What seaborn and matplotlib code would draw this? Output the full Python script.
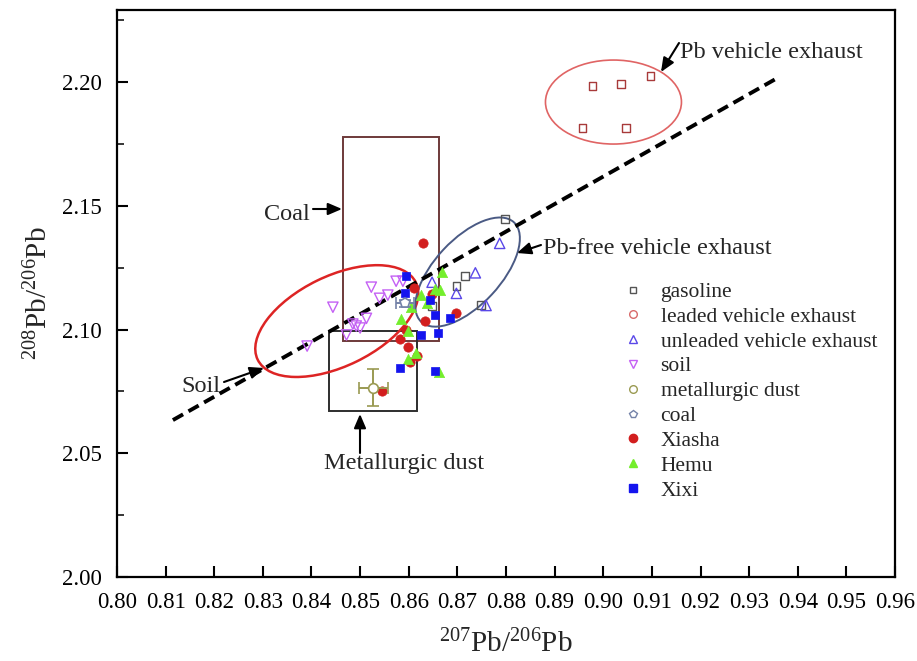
import numpy as np
import pandas as pd
import matplotlib
matplotlib.use("Agg")
import matplotlib.pyplot as plt
import seaborn as sns
from matplotlib.lines import Line2D
from matplotlib.patches import Ellipse, Rectangle
from matplotlib.transforms import Affine2D

# ---------------- data ----------------
gasoline_x = [0.8798, 0.8716, 0.8698, 0.8648, 0.8748]
gasoline_y = [2.1446, 2.1215, 2.1176, 2.1095, 2.1098]

leaded_x = [0.8978, 0.9037, 0.9097, 0.8957, 0.9047]
leaded_y = [2.1984, 2.1992, 2.2024, 2.1814, 2.1814]

unleaded_x = [0.8787, 0.8737, 0.8698, 0.8648, 0.8759]
unleaded_y = [2.1348, 2.1229, 2.1146, 2.1191, 2.1097]

soil_x = [0.8391, 0.8444, 0.8472, 0.8485, 0.8492, 0.8500, 0.8513, 0.8523, 0.8540, 0.8557, 0.8574, 0.8588]
soil_y = [2.0933, 2.1090, 2.0978, 2.1022, 2.1014, 2.1006, 2.1045, 2.1171, 2.1126, 2.1139, 2.1195, 2.1195]

metal_x, metal_y, metal_xerr, metal_yerr = [0.8527], [2.0765], [0.0030], [0.0074]
coal_x, coal_y, coal_xerr, coal_yerr = [0.8592], [2.1106], [0.0019], [0.0015]

xiasha_x = [0.8629, 0.8610, 0.8648, 0.8698, 0.8633, 0.8594, 0.8583, 0.8599, 0.8617, 0.8602, 0.8544]
xiasha_y = [2.1349, 2.1166, 2.1145, 2.1067, 2.1036, 2.0998, 2.0961, 2.0931, 2.0894, 2.0868, 2.0753]

hemu_x = [0.8668, 0.8664, 0.8654, 0.8626, 0.8637, 0.8605, 0.8585, 0.8598, 0.8615, 0.8598, 0.8663]
hemu_y = [2.1232, 2.1158, 2.1164, 2.1139, 2.1107, 2.1091, 2.1042, 2.0994, 2.0905, 2.0881, 2.0828]

xixi_x = [0.8594, 0.8593, 0.8643, 0.8655, 0.8684, 0.8626, 0.8660, 0.8581, 0.8653]
xixi_y = [2.1216, 2.1149, 2.1121, 2.1059, 2.1046, 2.0978, 2.0985, 2.0843, 2.0834]

trend_x = [0.8115, 0.9358]
trend_y = [2.0634, 2.2016]

x_ticks = [0.80, 0.81, 0.82, 0.83, 0.84, 0.85, 0.86, 0.87, 0.88, 0.89,
           0.90, 0.91, 0.92, 0.93, 0.94, 0.95, 0.96]
y_ticks = [2.00, 2.05, 2.10, 2.15, 2.20]

legend_labels = ["gasoline", "leaded vehicle exhaust", "unleaded vehicle exhaust",
                 "soil", "metallurgic dust", "coal", "Xiasha", "Hemu", "Xixi"]

# ---------------- style ----------------
sns.set_theme(style="ticks")
plt.rcParams["font.family"] = ["Liberation Serif", "DejaVu Serif"]
plt.rcParams["mathtext.fontset"] = "custom"
plt.rcParams["mathtext.rm"] = "Liberation Serif"
plt.rcParams["mathtext.it"] = "Liberation Serif:italic"
plt.rcParams["mathtext.bf"] = "Liberation Serif:bold"

C_GAS = "#555555"
C_LEAD = "#a83a3a"
C_LEAD_LEG = "#d86a6a"
C_UNL = "#5a48e8"
C_SOIL = "#c460f4"
C_METAL = "#9a9a52"
C_COAL = "#7482a8"
C_XIA = "#d21e1e"
C_HEMU = "#74ee2c"
C_XIXI = "#1414ee"

W, H = 917, 661
fig = plt.figure(figsize=(W / 100, H / 100), dpi=100)
ax_l, ax_r, ax_b, ax_t = 117, 895, 577, 10
ax = fig.add_axes([ax_l / W, 1 - ax_b / H, (ax_r - ax_l) / W, (ax_b - ax_t) / H])

XMIN, XMAX = 0.80, 0.96
YMIN = 2.00
YMAX = YMIN + (ax_b - ax_t) / 2475.0
ax.set_xlim(XMIN, XMAX)
ax.set_ylim(YMIN, YMAX)

# pixel -> data scale (for shapes defined in screen-like units)
sx = (XMAX - XMIN) / (ax_r - ax_l)
sy = (YMAX - YMIN) / (ax_b - ax_t)

# ---------------- regions ----------------
ax.add_patch(Rectangle((0.8465, 2.0954), 0.8663 - 0.8465, 2.1778 - 2.0954,
                       fill=False, edgecolor="#6e3a3a", lw=1.4, zorder=2))
ax.add_patch(Rectangle((0.8436, 2.0671), 0.8616 - 0.8436, 2.0995 - 2.0671,
                       fill=False, edgecolor="#2e2e2e", lw=1.4, zorder=2))

def add_ellipse(cx, cy, a_px, b_px, ang, color, lw):
    tr = Affine2D().scale(sx, sy).translate(cx, cy) + ax.transData
    e = Ellipse((0, 0), 2 * a_px, 2 * b_px, angle=ang, fill=False,
                edgecolor=color, lw=lw, transform=tr, zorder=2)
    ax.add_patch(e)

add_ellipse(0.8452, 2.1034, 88, 45, 26, "#dd2424", 1.8)
add_ellipse(0.8721, 2.1232, 68, 33, 47, "#4a5a84", 1.4)
add_ellipse(0.9021, 2.1919, 68, 42, 0, "#e06464", 1.2)

# ---------------- trend line ----------------
ax.plot(trend_x, trend_y, color="black", lw=2.8, dashes=(3.0, 1.6), zorder=3)

# ---------------- scatter ----------------
def open_pts(x, y, marker, color, s, lw=1.0):
    sns.scatterplot(x=x, y=y, ax=ax, marker=marker, s=s, color=color,
                    facecolor="none", edgecolor=color, linewidth=lw, zorder=4,
                    legend=False)

def filled_pts(x, y, marker, color, s):
    sns.scatterplot(x=x, y=y, ax=ax, marker=marker, s=s, color=color,
                    edgecolor=color, linewidth=0.5, zorder=5, legend=False)

open_pts(gasoline_x, gasoline_y, "s", C_GAS, 30)
open_pts(leaded_x, leaded_y, "s", C_LEAD, 30)
open_pts(unleaded_x, unleaded_y, "^", C_UNL, 55)
open_pts(soil_x, soil_y, "v", C_SOIL, 55)
filled_pts(xiasha_x, xiasha_y, "o", C_XIA, 45)
filled_pts(hemu_x, hemu_y, "^", C_HEMU, 55)
filled_pts(xixi_x, xixi_y, "s", C_XIXI, 38)

ax.errorbar(metal_x, metal_y, xerr=metal_xerr, yerr=metal_yerr, fmt="o",
            mfc="white", mec=C_METAL, ecolor=C_METAL, ms=7, mew=1.2,
            elinewidth=1.4, capsize=4.5, capthick=1.4, zorder=6)
ax.errorbar(coal_x, coal_y, xerr=coal_xerr, yerr=coal_yerr, fmt="p",
            mfc="white", mec=C_COAL, ecolor=C_COAL, ms=7, mew=1.2,
            elinewidth=1.4, capsize=4, capthick=1.4, zorder=6)

# ---------------- annotations ----------------
def px2d(px, py):
    return XMIN + (px - ax_l) * sx, YMIN + (ax_b - py) * sy

arrow_kw = dict(arrowstyle="-|>,head_length=0.7,head_width=0.3", color="black",
                lw=1.5, shrinkA=0, shrinkB=0)

def arrow(p0, p1):
    ax.annotate("", xy=px2d(*p1), xytext=px2d(*p0), arrowprops=arrow_kw, zorder=7)

fs_ann = 17.5
ax.text(*px2d(680, 52), "Pb vehicle exhaust", fontsize=fs_ann, ha="left", va="center")
arrow((679, 43), (661, 72))
ax.text(*px2d(543, 249), "Pb-free vehicle exhaust", fontsize=fs_ann, ha="left", va="center")
arrow((541, 245), (517, 253))
ax.text(*px2d(310, 214), "Coal", fontsize=fs_ann, ha="right", va="center")
arrow((313, 209), (342, 209))
ax.text(*px2d(220, 386), "Soil", fontsize=fs_ann, ha="right", va="center")
arrow((224, 382), (264, 368))
ax.text(*px2d(404, 464), "Metallurgic dust", fontsize=fs_ann, ha="center", va="center")
arrow((360, 453), (360, 414))

# ---------------- axes ----------------
ax.set_xticks(x_ticks)
ax.set_xticklabels([f"{v:.2f}" for v in x_ticks])
ax.set_yticks(y_ticks)
ax.set_yticklabels([f"{v:.2f}" for v in y_ticks])
ax.set_yticks([2.025, 2.075, 2.125, 2.175, 2.225], minor=True)
ax.tick_params(axis="both", which="major", direction="in", length=8, width=1.5,
               labelsize=16.5, colors="black")
ax.tick_params(axis="x", which="major", pad=11)
ax.tick_params(axis="y", which="major", pad=11)
ax.tick_params(axis="y", which="minor", direction="in", length=5, width=1.3)
for sp in ax.spines.values():
    sp.set_visible(True)
    sp.set_linewidth(1.6)
    sp.set_color("black")

ax.set_xlabel(r"$^{207}$Pb/$^{206}$Pb", fontsize=21, labelpad=12)
ax.set_ylabel(r"$^{208}$Pb/$^{206}$Pb", fontsize=21, labelpad=6)

# ---------------- legend ----------------
handles = [
    Line2D([], [], ls="", marker="s", mfc="none", mec=C_GAS, ms=5, mew=1),
    Line2D([], [], ls="", marker="o", mfc="none", mec=C_LEAD_LEG, ms=5.5, mew=1),
    Line2D([], [], ls="", marker="^", mfc="none", mec=C_UNL, ms=5.5, mew=1),
    Line2D([], [], ls="", marker="v", mfc="none", mec=C_SOIL, ms=5.5, mew=1),
    Line2D([], [], ls="", marker="o", mfc="none", mec=C_METAL, ms=5.5, mew=1),
    Line2D([], [], ls="", marker="p", mfc="none", mec=C_COAL, ms=5.5, mew=1),
    Line2D([], [], ls="", marker="o", color=C_XIA, ms=6),
    Line2D([], [], ls="", marker="^", color=C_HEMU, ms=6),
    Line2D([], [], ls="", marker="s", color=C_XIXI, ms=5.5),
]
ax.legend(handles, legend_labels, loc="upper left",
          bbox_to_anchor=(624 / W, 1 - 282 / H), bbox_transform=fig.transFigure,
          frameon=False, fontsize=15.5, borderpad=0, borderaxespad=0,
          handlelength=0.8, handletextpad=0.9, labelspacing=0.22)

fig.savefig("out.png", dpi=100)
